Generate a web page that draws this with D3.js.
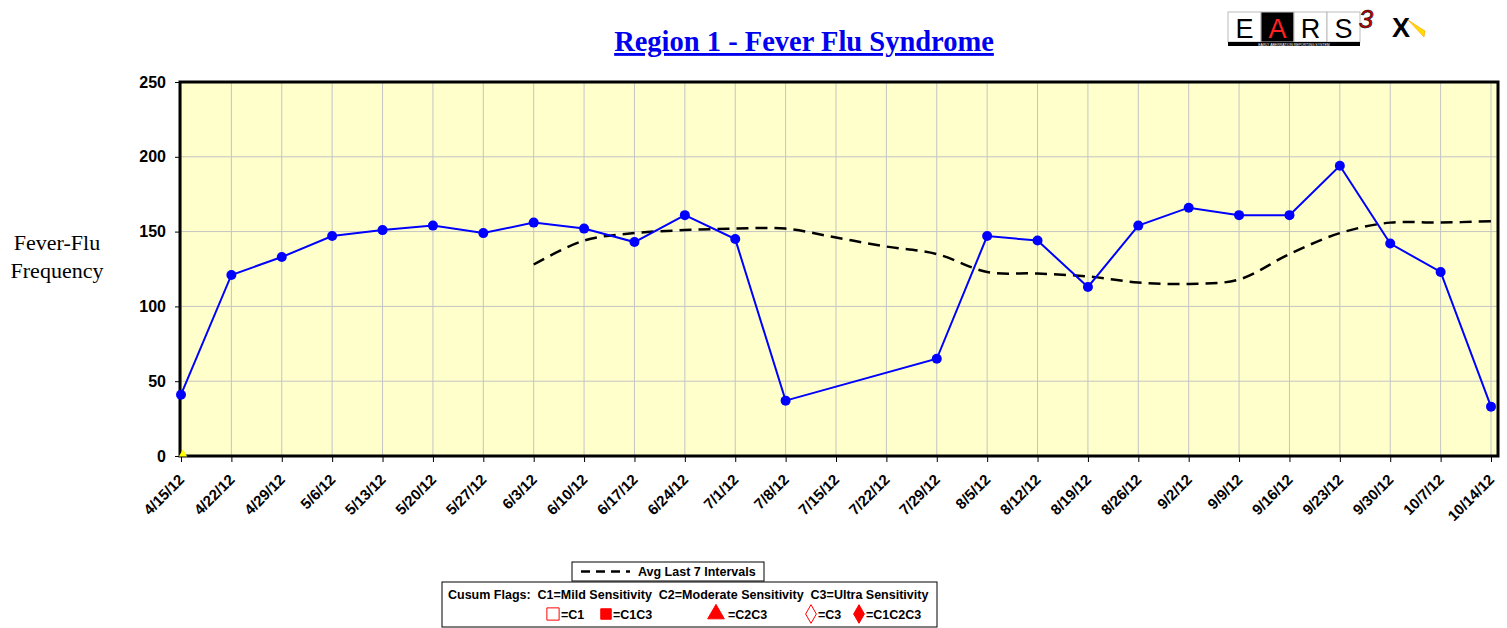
<!DOCTYPE html>
<html>
<head>
<meta charset="utf-8">
<script src="https://cdn.jsdelivr.net/npm/d3@7"></script>
<style>
  body { margin: 0; background: #fff; }
  svg { display: block; }
</style>
</head>
<body>
<div id="chart"></div>
<script>
// weekly categories
const dates = ["4/15/12", "4/22/12", "4/29/12", "5/6/12", "5/13/12", "5/20/12", "5/27/12",
  "6/3/12", "6/10/12", "6/17/12", "6/24/12", "7/1/12", "7/8/12", "7/15/12", "7/22/12",
  "7/29/12", "8/5/12", "8/12/12", "8/19/12", "8/26/12", "9/2/12", "9/9/12", "9/16/12",
  "9/23/12", "9/30/12", "10/7/12", "10/14/12"];

// observed counts (null = no data)
const counts = [41, 121, 133, 147, 151, 154, 149, 156, 152, 143, 161, 145, 37, null, null,
  65, 147, 144, 113, 154, 166, 161, 161, 194, 142, 123, 33];

// average of last 7 intervals
const avg7 = [null, null, null, null, null, null, null, 128, 144, 149, 151, 152, 152, 146, 140,
  135, 123, 122, 120, 116, 115, 118, 135, 149, 156, 156, 157];

// flag marker at bottom
const flagDates = ["4/15/12"];
const flagValues = [0];

const yTicks = [0, 50, 100, 150, 200, 250];

const width = 1507, height = 628;
const plotL = 180, plotR = 1498, plotT = 82, plotB = 456;

const svg = d3.select("#chart").append("svg")
  .attr("width", width).attr("height", height);

const x = d3.scalePoint().domain(dates).range([181, 1491]);
const y = d3.scaleLinear().domain([0, 250]).range([plotB, plotT]);

// plot background
svg.append("rect")
  .attr("x", plotL).attr("y", plotT)
  .attr("width", plotR - plotL).attr("height", plotB - plotT)
  .attr("fill", "#ffffcc");

// grid
svg.append("g").selectAll("line").data(yTicks).enter().append("line")
  .attr("x1", plotL).attr("x2", plotR)
  .attr("y1", d => y(d)).attr("y2", d => y(d))
  .attr("stroke", "#c4c4c4").attr("stroke-width", 1);
svg.append("g").selectAll("line").data(dates).enter().append("line")
  .attr("x1", d => x(d)).attr("x2", d => x(d))
  .attr("y1", plotT).attr("y2", plotB)
  .attr("stroke", "#c4c4c4").attr("stroke-width", 1);

// axes
const yAxis = svg.append("g")
  .attr("transform", `translate(${plotL},0)`)
  .call(d3.axisLeft(y).tickValues(yTicks).tickSize(5).tickPadding(9));
yAxis.select(".domain").remove();
yAxis.selectAll("line").attr("stroke", "#000");
yAxis.selectAll("text")
  .attr("font-family", "Liberation Sans, Arial, sans-serif")
  .attr("font-size", 16).attr("font-weight", "bold").attr("fill", "#000");

const xAxis = svg.append("g")
  .attr("transform", `translate(0,${plotB})`)
  .call(d3.axisBottom(x).tickSize(6).tickSizeOuter(0));
xAxis.select(".domain").remove();
xAxis.selectAll("line").attr("stroke", "#000");
xAxis.selectAll("text")
  .attr("font-family", "Liberation Sans, Arial, sans-serif")
  .attr("font-size", 15).attr("font-weight", "bold").attr("fill", "#000")
  .attr("text-anchor", "end")
  .attr("y", 0).attr("x", 0).attr("dy", "0.35em")
  .attr("transform", "translate(0,21) rotate(-45)");

// frame
svg.append("rect")
  .attr("x", plotL).attr("y", plotT)
  .attr("width", plotR - plotL).attr("height", plotB - plotT)
  .attr("fill", "none").attr("stroke", "#000").attr("stroke-width", 3);

// average line
const avgLine = d3.line()
  .defined(d => d[1] != null)
  .x(d => x(d[0])).y(d => y(d[1]))
  .curve(d3.curveCatmullRom);
svg.append("path")
  .datum(dates.map((d, i) => [d, avg7[i]]))
  .attr("d", avgLine)
  .attr("fill", "none").attr("stroke", "#000")
  .attr("stroke-width", 2.5).attr("stroke-dasharray", "12,7");

// counts line (skip gaps)
const countData = dates.map((d, i) => [d, counts[i]]).filter(d => d[1] != null);
svg.append("path")
  .datum(countData)
  .attr("d", d3.line().x(d => x(d[0])).y(d => y(d[1])))
  .attr("fill", "none").attr("stroke", "#0000ff").attr("stroke-width", 2);
svg.append("g").selectAll("circle").data(countData).enter().append("circle")
  .attr("cx", d => x(d[0])).attr("cy", d => y(d[1]))
  .attr("r", 5).attr("fill", "#0000ff");

// flag marker
svg.append("g").selectAll("path").data(flagDates).enter().append("path")
  .attr("d", d3.symbol(d3.symbolTriangle, 30))
  .attr("transform", (d, i) => `translate(${x(d) + 2},${y(flagValues[i]) - 2})`)
  .attr("fill", "#ffff00");

// title
svg.append("text")
  .attr("x", 804).attr("y", 51)
  .attr("text-anchor", "middle")
  .attr("font-family", "Liberation Serif, Times New Roman, serif")
  .attr("font-size", 28.5).attr("font-weight", "bold")
  .attr("fill", "#0000ee").attr("text-decoration", "underline")
  .text("Region 1 - Fever Flu Syndrome");

// y label
const yl = svg.append("text")
  .attr("text-anchor", "middle")
  .attr("font-family", "Liberation Serif, Times New Roman, serif")
  .attr("font-size", 22).attr("fill", "#000");
yl.append("tspan").attr("x", 57).attr("y", 250).text("Fever-Flu");
yl.append("tspan").attr("x", 57).attr("y", 278).text("Frequency");

// legends
const lf = "Liberation Sans, Arial, sans-serif";
svg.append("rect").attr("x", 572).attr("y", 562).attr("width", 192).attr("height", 19)
  .attr("fill", "#fff").attr("stroke", "#000").attr("stroke-width", 1);
svg.append("line").attr("x1", 581).attr("x2", 630).attr("y1", 571.5).attr("y2", 571.5)
  .attr("stroke", "#000").attr("stroke-width", 2.5).attr("stroke-dasharray", "9,6");
svg.append("text").attr("x", 638).attr("y", 576)
  .attr("font-family", lf).attr("font-size", 12.5).attr("font-weight", "bold")
  .text("Avg Last 7 Intervals");

svg.append("rect").attr("x", 442).attr("y", 582).attr("width", 495).attr("height", 45)
  .attr("fill", "#fff").attr("stroke", "#000").attr("stroke-width", 1);
svg.append("text").attr("x", 448).attr("y", 599)
  .attr("font-family", lf).attr("font-size", 12.5).attr("font-weight", "bold")
  .attr("xml:space", "preserve")
  .text("Cusum Flags:  C1=Mild Sensitivity  C2=Moderate Sensitivity  C3=Ultra Sensitivity");

const flagKeys = [
  { sym: d3.symbolSquare, size: 150, fill: "#fff", x: 553, label: "=C1", tx: 561 },
  { sym: d3.symbolSquare, size: 110, fill: "#ff0000", x: 606, label: "=C1C3", tx: 613 },
  { sym: d3.symbolTriangle, size: 120, fill: "#ff0000", x: 716, label: "=C2C3", tx: 728 },
  { sym: d3.symbolDiamond, size: 100, fill: "#fff", x: 811, label: "=C3", tx: 818 },
  { sym: d3.symbolDiamond, size: 100, fill: "#ff0000", x: 859, label: "=C1C2C3", tx: 866 }
];
flagKeys.forEach(k => {
  svg.append("path")
    .attr("d", d3.symbol(k.sym, k.size))
    .attr("transform", `translate(${k.x},614)`)
    .attr("fill", k.fill).attr("stroke", "#ff0000").attr("stroke-width", 1);
  svg.append("text").attr("x", k.tx).attr("y", 619)
    .attr("font-family", lf).attr("font-size", 12.5).attr("font-weight", "bold")
    .text(k.label);
});

// EARS logo
const logo = svg.append("g");
["E", "A", "R", "S"].forEach((l, i) => {
  const bx = 1228 + i * 33;
  logo.append("rect").attr("x", bx).attr("y", 12).attr("width", 33).attr("height", 30)
    .attr("fill", l === "A" ? "#000" : "#fff").attr("stroke", "#bbb").attr("stroke-width", 1);
  logo.append("text").attr("x", bx + 16.5).attr("y", 38)
    .attr("text-anchor", "middle").attr("font-family", lf).attr("font-size", 27)
    .attr("fill", l === "A" ? "#ff2020" : "#000").text(l);
});
logo.append("rect").attr("x", 1228).attr("y", 42).attr("width", 132).attr("height", 4).attr("fill", "#000");
logo.append("text").attr("x", 1294).attr("y", 45.5).attr("text-anchor", "middle")
  .attr("font-family", lf).attr("font-size", 3.5).attr("fill", "#fff")
  .text("EARLY ABERRATION REPORTING SYSTEM");
logo.append("text").attr("x", 1366).attr("y", 28).attr("text-anchor", "middle")
  .attr("font-family", lf).attr("font-size", 26).attr("font-style", "italic")
  .attr("fill", "#d00000").attr("stroke", "#000").attr("stroke-width", 0.6)
  .text("3");
logo.append("text").attr("x", 1401).attr("y", 37).attr("text-anchor", "middle")
  .attr("font-family", lf).attr("font-size", 27).attr("font-weight", "bold").attr("fill", "#000")
  .text("X");
logo.append("path").attr("d", "M1408,20 L1425,31 L1424,37 Z").attr("fill", "#ffdd00").attr("stroke", "#ff9900").attr("stroke-width", 0.6);
</script>
</body>
</html>
